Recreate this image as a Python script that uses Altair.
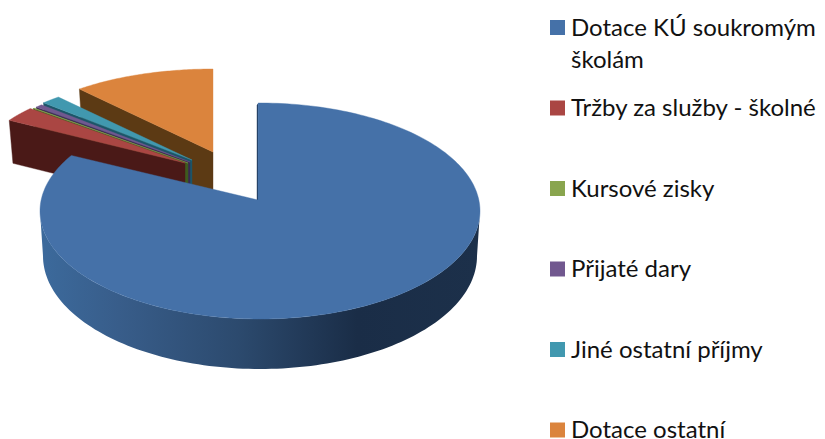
import math
import altair as alt
import pandas as pd

# ---- chart values ----
names = ["Dotace KÚ soukromým\nškolám", "Tržby za služby - školné", "Kursové zisky",
         "Přijaté dary", "Jiné ostatní příjmy", "Dotace ostatní"]
shares = [83.6, 2.8, 0.1, 0.6, 1.6, 11.3]
colors = ["#4571a8", "#aa4643", "#89a54e", "#71588f", "#4198af", "#db843d"]
wall_colors = ["#1f3a5a", "#4a1917", "#3f5a1e", "#3a2a50", "#1c5568", "#5c3a14"]

# ---- layout of the drawing (page pixels, page margin 8) ----
M = 8
CX, CY, A, B = 260, 211, 220, 108          # main slice ellipse
BCY, BA, BB = 256, 217, 113                # lower rim of main slice
APEX0 = (258, 200)
RA, RB = 205, 83                           # exploded slice ellipse
DEPTH = 43
APEX = {1: (185, 163), 2: (188, 163), 3: (190, 162), 4: (192, 160), 5: (213, 152)}

total = sum(shares)
cum = [0]
for s in shares:
    cum.append(cum[-1] + s / total * 360)


def pt(x, y):
    return [x - M, y - M]


def feature(coords, fill):
    ring = [pt(x, y) for x, y in coords]
    ring.append(ring[0])
    return {"type": "Feature", "properties": {"fill": fill},
            "geometry": {"type": "Polygon", "coordinates": [ring]}}


def rim(i, t):
    ax, ay = APEX[i]
    r = math.radians(t)
    return ax + RA * math.sin(r), ay - RB * math.cos(r)


def deg_range(a, b, n=60):
    return [a + (b - a) * k / n for k in range(n + 1)]


exploded = []
for i in [5, 4, 3, 2, 1]:
    ax, ay = APEX[i]
    rx, ry = rim(i, cum[i])
    bx = rx + (258 - rx) * 0.015
    exploded.append(feature([(rx, ry), (ax, ay), (ax, ay + DEPTH), (bx, ry + DEPTH)], wall_colors[i]))
    exploded.append(feature([(ax, ay)] + [rim(i, t) for t in deg_range(cum[i], cum[i + 1])], colors[i]))

blue_wall = feature(
    [(CX + A * math.sin(math.radians(t)), CY - B * math.cos(math.radians(t))) for t in deg_range(90, 270, 120)]
    + [(CX + BA * math.sin(math.radians(t)), BCY - BB * math.cos(math.radians(t))) for t in deg_range(270, 90, 120)],
    wall_colors[0],
)
blue_cut = feature([(257, 105), (258, 104), (258, 200), (257, 200)], wall_colors[0])
blue_top = feature(
    [APEX0] + [(CX + A * math.sin(math.radians(t)), CY - B * math.cos(math.radians(t)))
               for t in deg_range(-0.5, cum[1], 240)],
    colors[0],
)


def geo(features):
    return alt.InlineData(values={"type": "FeatureCollection", "features": features},
                          format=alt.DataFormat(type="json", property="features"))


proj = alt.Projection(type="identity", scale=1, translate=[0, 0])
fill_enc = dict(fill=alt.Fill("properties.fill:N", scale=None),
                stroke=alt.Stroke("properties.fill:N", scale=None))

slices = alt.Chart(geo(exploded)).mark_geoshape(strokeWidth=0.4).encode(**fill_enc).project(**proj.to_dict())
wall = alt.Chart(geo([blue_wall])).mark_geoshape(
    strokeWidth=0,
    fill=alt.LinearGradient(gradient="linear", x1=0, x2=1, y1=0, y2=0, stops=[
        alt.GradientStop(color="#3c6a9c", offset=0),
        alt.GradientStop(color="#385d8a", offset=0.18),
        alt.GradientStop(color="#2c4a6e", offset=0.45),
        alt.GradientStop(color="#1a2d47", offset=0.72),
        alt.GradientStop(color="#1c304a", offset=1),
    ])).project(**proj.to_dict())
top = alt.Chart(geo([blue_cut, blue_top])).mark_geoshape(strokeWidth=0.4).encode(**fill_enc).project(**proj.to_dict())

legend_df = pd.DataFrame({"name": names, "row": list(range(len(names))), "fill": colors})
row_y = alt.Y("row:Q", scale=alt.Scale(domain=[0, 5], range=[27.5 - M, 430 - M]), axis=None)
swatches = alt.Chart(legend_df).mark_square(size=225, opacity=1, strokeWidth=0).encode(
    x=alt.value(557.5 - M), y=row_y, fill=alt.Fill("fill:N", scale=None))
labels = alt.Chart(legend_df).mark_text(
    align="left", baseline="top", font="Lato", fontSize=24, lineHeight=32, lineBreak="\n",
    color="#111111", dy=-11).encode(
    x=alt.value(571 - M), y=row_y, text="name:N")

chart = alt.layer(slices, wall, top, swatches, labels).properties(
    width=809, height=431, padding=0,
    autosize=alt.AutoSizeParams(type="none"),
).configure_view(stroke=None)

chart.save("out.html", embed_options={"renderer": "svg", "actions": False})
